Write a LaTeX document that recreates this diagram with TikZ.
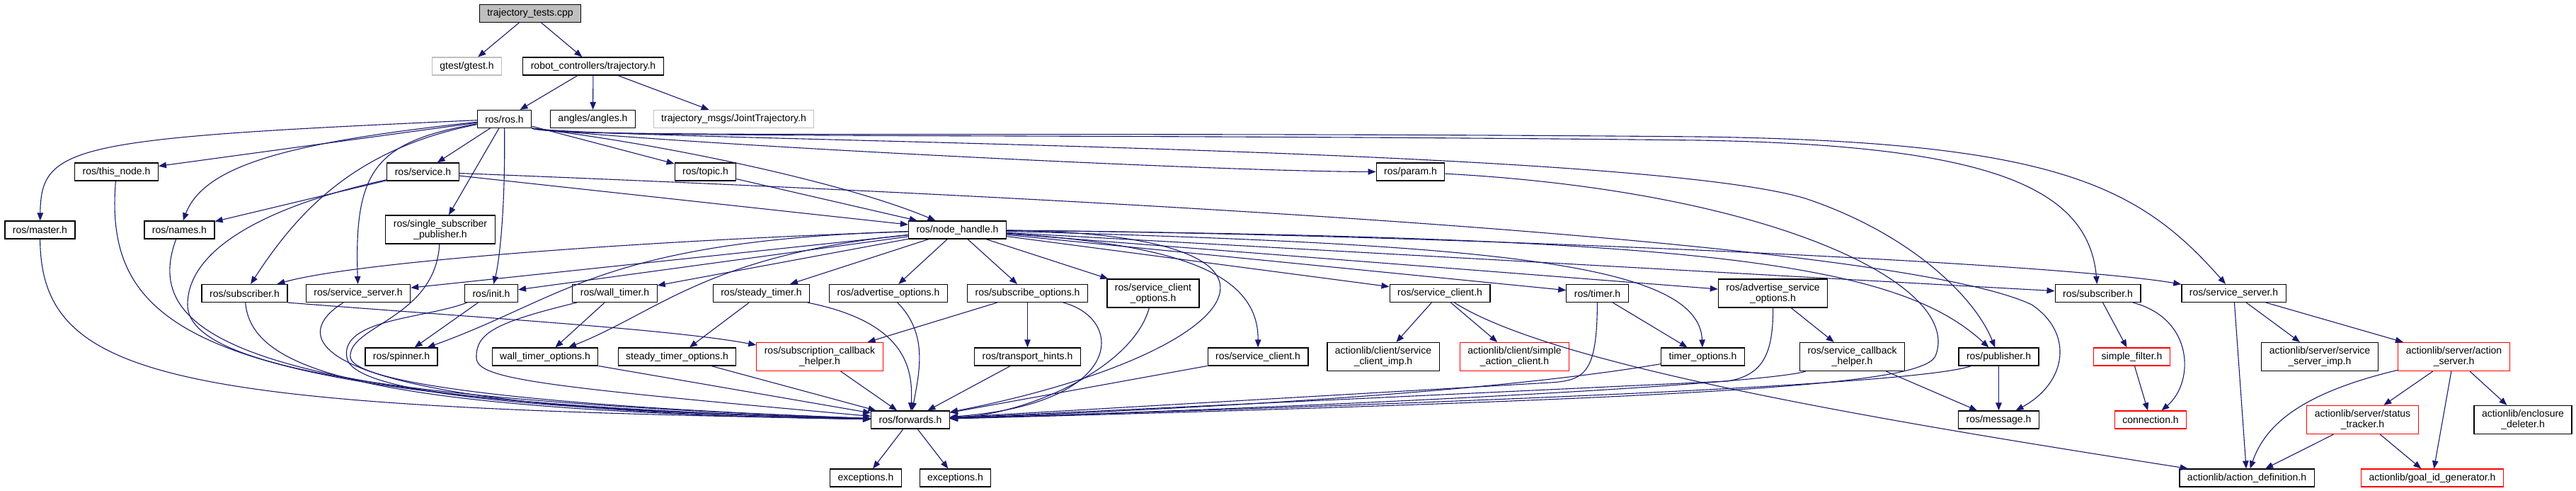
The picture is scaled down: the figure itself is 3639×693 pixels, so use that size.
\documentclass[tikz,border=0pt]{standalone}
\usepackage{fontspec}
\setmainfont{Liberation Sans}
\usetikzlibrary{arrows.meta}
\definecolor{edgeblue}{HTML}{191970}
\definecolor{grey75}{HTML}{BFBFBF}

\begin{document}
\begin{tikzpicture}[x=1pt,y=1pt,
  file/.style={draw=black,fill=white,line width=1.2pt,rectangle,
    inner xsep=11pt,inner ysep=0pt,minimum height=25pt,align=center,
    font=\fontsize{14}{15}\selectfont},
  twoline/.style={file,minimum height=40pt},
  trunc/.style={draw=red},
  extern/.style={draw=grey75},
  dep/.style={draw=edgeblue,line width=1.1pt,-{Triangle[length=11pt,width=8.5pt]}}]
  \useasboundingbox (0,0) rectangle (3639,-693);

  \node[file,fill=grey75] (tests) at (749,-19) {trajectory\_tests.cpp};
  \node[file,extern] (gtest) at (659.5,-93.5) {gtest/gtest.h};
  \node[file] (traj) at (838,-93.5) {robot\_controllers/trajectory.h};
  \node[file] (ros) at (712.5,-168) {ros/ros.h};
  \node[file] (angles) at (837.5,-168) {angles/angles.h};
  \node[file,extern] (jtraj) at (1036.5,-168) {trajectory\_msgs/JointTrajectory.h};
  \node[file] (thisnode) at (164.5,-242.5) {ros/this\_node.h};
  \node[file] (service) at (597.5,-242.5) {ros/service.h};
  \node[file] (topic) at (996.5,-242.5) {ros/topic.h};
  \node[file] (param) at (1992.5,-242.5) {ros/param.h};
  \node[file] (master) at (56.5,-324.5) {ros/master.h};
  \node[file] (names) at (253.5,-324.5) {ros/names.h};
  \node[twoline] (ssp) at (622,-324) {ros/single\_subscriber\\\_publisher.h};
  \node[file] (nh) at (1352.5,-324.5) {ros/node\_handle.h};
  \node[file] (subL) at (345.5,-414) {ros/subscriber.h};
  \node[file] (ssL) at (506,-414) {ros/service\_server.h};
  \node[file] (init) at (694,-414) {ros/init.h};
  \node[file] (walltimer) at (868.5,-414) {ros/wall\_timer.h};
  \node[file] (steadytimer) at (1075.5,-414) {ros/steady\_timer.h};
  \node[file] (advopt) at (1255,-414) {ros/advertise\_options.h};
  \node[file] (subopt) at (1451.5,-414) {ros/subscribe\_options.h};
  \node[twoline] (scopt) at (1629,-414) {ros/service\_client\\\_options.h};
  \node[file] (scA) at (2034,-414) {ros/service\_client.h};
  \node[file] (timer) at (2256.5,-414) {ros/timer.h};
  \node[twoline] (asopt) at (2504.5,-414) {ros/advertise\_service\\\_options.h};
  \node[file] (subR) at (2963.5,-414) {ros/subscriber.h};
  \node[file] (ssR) at (3155.5,-414) {ros/service\_server.h};
  \node[file] (spinner) at (567,-503.5) {ros/spinner.h};
  \node[file] (wto) at (770,-503.5) {wall\_timer\_options.h};
  \node[file] (sto) at (956.5,-503.5) {steady\_timer\_options.h};
  \node[twoline,trunc] (sch) at (1158,-503.5) {ros/subscription\_callback\\\_helper.h};
  \node[file] (th) at (1451.5,-503.5) {ros/transport\_hints.h};
  \node[file] (scB) at (1777,-503.5) {ros/service\_client.h};
  \node[twoline] (scimp) at (1954,-503.5) {actionlib/client/service\\\_client\_imp.h};
  \node[twoline,trunc] (sac) at (2139.5,-503.5) {actionlib/client/simple\\\_action\_client.h};
  \node[file] (topt) at (2405.5,-503.5) {timer\_options.h};
  \node[twoline] (scbh) at (2616.5,-503.5) {ros/service\_callback\\\_helper.h};
  \node[file] (pub) at (2823.5,-503.5) {ros/publisher.h};
  \node[file,trunc] (sfilter) at (3011.5,-503.5) {simple\_filter.h};
  \node[twoline] (ssimp) at (3277,-503.5) {actionlib/server/service\\\_server\_imp.h};
  \node[twoline,trunc] (aserver) at (3466.5,-503.5) {actionlib/server/action\\\_server.h};
  \node[file] (fwd) at (1286,-592.5) {ros/forwards.h};
  \node[file] (msg) at (2823.5,-592.5) {ros/message.h};
  \node[file,trunc] (conn) at (3038,-592.5) {connection.h};
  \node[twoline,trunc] (tracker) at (3337.5,-592.5) {actionlib/server/status\\\_tracker.h};
  \node[twoline] (encl) at (3564,-592.5) {actionlib/enclosure\\\_deleter.h};
  \node[file] (excA) at (1223,-674.5) {exceptions.h};
  \node[file] (excB) at (1349.5,-674.5) {exceptions.h};
  \node[file] (adef) at (3174,-674.5) {actionlib/action\_definition.h};
  \node[file,trunc] (goalid) at (3436,-674.5) {actionlib/goal\_id\_generator.h};

  % the test file and its header
  \draw[dep] (tests) -- (gtest);
  \draw[dep] (tests) -- (traj);
  \draw[dep] (traj) -- (ros);
  \draw[dep] (traj) -- (angles);
  \draw[dep] (traj) -- (jtraj);

  % ros/ros.h
  \draw[dep] (ros) -- (thisnode);
  \draw[dep] (ros) .. controls (100,-195) and (58,-205) .. (master);
  \draw[dep] (ros) .. controls (420,-200) and (290,-230) .. (names);
  \draw[dep] (ros) -- (service);
  \draw[dep] (ros) -- (ssp);
  \draw[dep] (ros) .. controls (714,-300) and (705,-370) .. (init);
  \draw[dep] (ros) .. controls (500,-210) and (420,-300) .. (subL);
  \draw[dep] (ros) .. controls (530,-200) and (500,-240) .. (ssL);
  \draw[dep] (ros) -- (topic);
  \draw[dep] (ros.south east) .. controls (950,-205) and (1200,-260) .. (nh);
  \draw[dep] (ros.south east) .. controls (900,-200) and (1700,-242) .. (param);
  \draw[dep] (ros.south east) .. controls (900,-200) and (2300,-205) .. (2550,-280)
                              .. controls (2700,-330) and (2790,-420) .. (pub);
  \draw[dep] (ros.south east) .. controls (790,-196) and (1500,-188) .. (2400,-198)
                              .. controls (2800,-205) and (2950,-260) .. (subR);
  \draw[dep] (ros.south east) .. controls (790,-196) and (1500,-185) .. (2400,-193)
                              .. controls (2900,-200) and (3020,-260) .. (ssR);

  % second row
  \draw[dep] (service) -- (names);
  \draw[dep] (service) -- (nh);
  \draw[dep] (service) .. controls (380,-290) and (265,-350) .. (265,-430)
                       .. controls (265,-510) and (500,-565) .. (fwd);
  \draw[dep] (service) .. controls (1800,-290) and (2700,-350) .. (2870,-430)
                       .. controls (2930,-470) and (2920,-540) .. (msg);
  \draw[dep] (topic) -- (nh);
  \draw[dep] (param) .. controls (2500,-270) and (2770,-400) .. (2735,-500)
                     .. controls (2725,-540) and (2500,-560) .. (fwd);
  \draw[dep] (thisnode) .. controls (145,-480) and (300,-565) .. (fwd);
  \draw[dep] (master) .. controls (58,-540) and (250,-575) .. (fwd);
  \draw[dep] (names) .. controls (200,-470) and (330,-570) .. (fwd);
  \draw[dep] (ssp) .. controls (615,-450) and (490,-460) .. (495,-505)
                   .. controls (505,-545) and (800,-575) .. (fwd);

  % ros/node_handle.h
  \draw[dep] (nh) .. controls (900,-340) and (500,-370) .. (subL);
  \draw[dep] (nh) -- (ssL);
  \draw[dep] (nh) -- (init);
  \draw[dep] (nh) .. controls (850,-340) and (800,-420) .. (spinner);
  \draw[dep] (nh) -- (walltimer);
  \draw[dep] (nh) .. controls (1000,-360) and (930,-440) .. (wto);
  \draw[dep] (nh) -- (steadytimer);
  \draw[dep] (nh) -- (advopt);
  \draw[dep] (nh) -- (subopt);
  \draw[dep] (nh) -- (scopt);
  \draw[dep] (nh) .. controls (1650,-345) and (1778,-380) .. (scB);
  \draw[dep] (nh) .. controls (1900,-330) and (1760,-500) .. (fwd);
  \draw[dep] (nh) -- (scA);
  \draw[dep] (nh) -- (timer);
  \draw[dep] (nh) .. controls (2100,-345) and (2400,-370) .. (topt);
  \draw[dep] (nh) -- (asopt);
  \draw[dep] (nh) .. controls (2400,-335) and (2680,-370) .. (pub);
  \draw[dep] (nh) -- (subR);
  \draw[dep] (nh) .. controls (2000,-330) and (2900,-370) .. (ssR);

  % row under node_handle
  \draw[dep] (subL) .. controls (355,-520) and (500,-580) .. (fwd);
  \draw[dep] (subL.south east) .. controls (700,-450) and (950,-465) .. (sch);
  \draw[dep] (ssL) .. controls (400,-480) and (430,-580) .. (fwd);
  \draw[dep] (init) -- (spinner);
  \draw[dep] (init) .. controls (600,-450) and (480,-450) .. (490,-505)
                    .. controls (500,-560) and (800,-580) .. (fwd);
  \draw[dep] (walltimer) -- (wto);
  \draw[dep] (walltimer) .. controls (700,-455) and (672,-470) .. (673,-505)
                         .. controls (674,-535) and (760,-545) .. (fwd);
  \draw[dep] (steadytimer) -- (sto);
  \draw[dep] (steadytimer) .. controls (1280,-455) and (1290,-520) .. (fwd);
  \draw[dep] (advopt) .. controls (1310,-470) and (1300,-520) .. (fwd);
  \draw[dep] (subopt) -- (sch);
  \draw[dep] (subopt) -- (th);
  \draw[dep] (subopt) .. controls (1590,-450) and (1590,-570) .. (fwd);
  \draw[dep] (scopt) .. controls (1600,-520) and (1450,-585) .. (fwd);
  \draw[dep] (scA) -- (scimp);
  \draw[dep] (scA) -- (sac);
  \draw[dep] (scA) .. controls (2200,-520) and (2700,-600) .. (adef);
  \draw[dep] (timer) -- (topt);
  \draw[dep] (timer) .. controls (2256,-525) and (2240,-537) .. (2190,-540) -- (fwd);
  \draw[dep] (asopt) -- (scbh);
  \draw[dep] (asopt) .. controls (2505,-500) and (2490,-530) .. (2440,-538) -- (fwd);
  \draw[dep] (subR) -- (sfilter);
  \draw[dep] (subR) .. controls (3100,-450) and (3100,-540) .. (conn);
  \draw[dep] (ssR) -- (adef);
  \draw[dep] (ssR) -- (ssimp);
  \draw[dep] (ssR) -- (aserver);

  % lower rows
  \draw[dep] (wto) -- (fwd);
  \draw[dep] (sto) -- (fwd);
  \draw[dep] (sch) -- (fwd);
  \draw[dep] (th) -- (fwd);
  \draw[dep] (scB) -- (fwd);
  \draw[dep] (topt) .. controls (2250,-530) and (2000,-565) .. (fwd);
  \draw[dep] (scbh) .. controls (2500,-540) and (2000,-570) .. (fwd);
  \draw[dep] (scbh) -- (msg);
  \draw[dep] (pub) .. controls (2700,-545) and (2000,-570) .. (fwd);
  \draw[dep] (pub) -- (msg);
  \draw[dep] (sfilter) -- (conn);
  \draw[dep] (aserver) .. controls (3250,-555) and (3200,-600) .. (adef);
  \draw[dep] (aserver) -- (tracker);
  \draw[dep] (aserver) -- (goalid);
  \draw[dep] (aserver) -- (encl);
  \draw[dep] (tracker) -- (adef);
  \draw[dep] (tracker) -- (goalid);
  \draw[dep] (fwd) -- (excA);
  \draw[dep] (fwd) -- (excB);
\end{tikzpicture}
\end{document}
